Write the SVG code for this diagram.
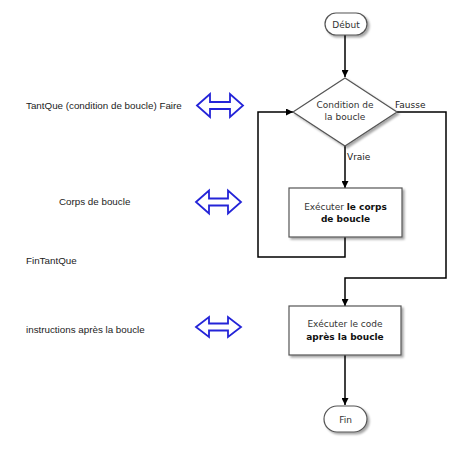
<svg xmlns="http://www.w3.org/2000/svg" width="474" height="456" viewBox="0 0 474 456">
<defs>
<marker id="ah" viewBox="0 0 10 10" refX="10" refY="5" markerWidth="7" markerHeight="7" markerUnits="userSpaceOnUse" orient="auto">
<path d="M0,0 L10,5 L0,10 Z" fill="#000"/>
</marker>
<filter id="sh" x="-10%" y="-10%" width="130%" height="140%">
<feDropShadow dx="2" dy="2" stdDeviation="1.2" flood-color="#000" flood-opacity="0.35"/>
</filter>
</defs>
<style>
.box{fill:#fff;stroke:#555;stroke-width:1.2;filter:url(#sh)}
.t{font-family:"DejaVu Sans",Verdana,sans-serif;font-size:9px;fill:#333;text-anchor:middle}
.lbl{font-family:"DejaVu Sans",Verdana,sans-serif;font-size:9px;fill:#222}
.b{font-weight:bold;fill:#111}
.side{font-family:"Liberation Sans",Arial,sans-serif;font-size:9.8px;fill:#222}
.dbl{fill:#fff;stroke:#2424d8;stroke-width:1.8;stroke-linejoin:miter}
.c{fill:none;stroke:#000;stroke-width:1.5}
</style>
<rect width="474" height="456" fill="#fff"/>

<g id="connectors">
<path class="c" d="M345,35 V77" marker-end="url(#ah)"/>
<path class="c" d="M345,146 V188" marker-end="url(#ah)"/>
<path class="c" d="M345,237 V257 H258 V112 H293" marker-end="url(#ah)"/>
<path class="c" d="M397,112 H446 V278 H345 V306" marker-end="url(#ah)"/>
<path class="c" d="M345,355 V405" marker-end="url(#ah)"/>
<text class="lbl" x="395" y="108">Fausse</text>
<text class="lbl" x="347" y="160">Vraie</text>
</g>

<g id="debut">
<rect class="box" x="325" y="13" width="42" height="22" rx="11"/>
<text class="t" x="346" y="27.5">Début</text>
</g>

<g id="condition">
<path class="box" d="M345,78 L397,112 L345,146 L293,112 Z"/>
<text class="t" x="345" y="108">Condition de</text>
<text class="t" x="345" y="120">la boucle</text>
</g>

<g id="corps">
<rect class="box" x="289" y="188" width="113" height="49"/>
<text class="t" x="345.5" y="210">Exécuter <tspan class="b">le corps</tspan></text>
<text class="t b" x="345.5" y="222">de boucle</text>
</g>

<g id="apres">
<rect class="box" x="289" y="306" width="112" height="49"/>
<text class="t" x="345" y="327">Exécuter le code</text>
<text class="t b" x="345" y="340">après la boucle</text>
</g>

<g id="fin">
<rect class="box" x="324" y="406" width="43" height="26" rx="13"/>
<text class="t" x="345.5" y="422.5">Fin</text>
</g>

<g id="side-labels">
<text class="side" x="26" y="109">TantQue (condition de boucle) Faire</text>
<text class="side" x="59" y="205">Corps de boucle</text>
<text class="side" x="26" y="264">FinTantQue</text>
<text class="side" x="26" y="333">instructions après la boucle</text>
</g>

<g id="double-arrows">
<path class="dbl" d="M197,105.5 L210,94 L210,102 L230,102 L230,94 L243,105.5 L230,117 L230,109 L210,109 L210,117 Z"/>
<path class="dbl" d="M196,202 L209,190.5 L209,198.5 L228,198.5 L228,190.5 L241,202 L228,213.5 L228,205.5 L209,205.5 L209,213.5 Z"/>
<path class="dbl" d="M196,327 L209,317 L209,323.5 L228,323.5 L228,317 L241,327 L228,337 L228,330.5 L209,330.5 L209,337 Z"/>
</g>
</svg>
